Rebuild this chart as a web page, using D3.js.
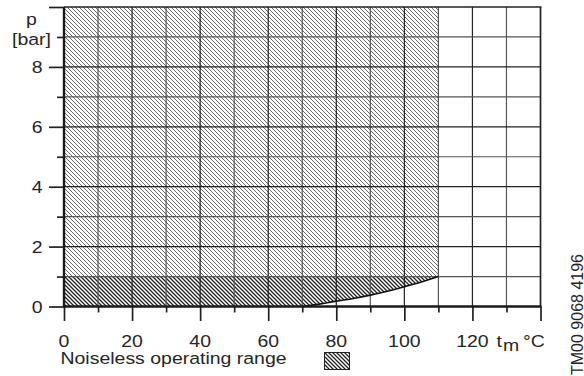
<!DOCTYPE html>
<html>
<head>
<meta charset="utf-8">
<script src="https://cdn.jsdelivr.net/npm/d3@7"></script>
<style>
  body { margin: 0; background: #fff; }
  text { font-family: "Liberation Sans", Arial, Helvetica, sans-serif; fill: #262626; }
</style>
</head>
<body>
<svg id="chart" width="584" height="376"></svg>
<script>
// Axis ranges and labelled ticks
const tempDomain = [0, 140];
const pressureDomain = [0, 10];
const xTickLabels = [0, 20, 40, 60, 80, 100, 120];
const yTickLabels = [0, 2, 4, 6, 8];

// Noiseless operating range: lower boundary (pressure needed vs temperature)
const boundaryTemp     = [0, 70, 75, 80, 85, 90, 95, 100, 105, 110];
const boundaryPressure = [0, 0, 0.08, 0.18, 0.27, 0.38, 0.51, 0.66, 0.82, 1.0];
const rangeMaxTemp = 110;
const rangeMaxPressure = 10;
const lowBandPressure = 1;

const svg = d3.select("#chart");
const W = 584, H = 376;
const x = d3.scaleLinear().domain(tempDomain).range([64, 540.5]);
const y = d3.scaleLinear().domain(pressureDomain).range([306.5, 7]);
const SX = 1.18, FS = 16.5;

svg.append("rect").attr("width", W).attr("height", H).attr("fill", "#fff");

// Hatch patterns
const defs = svg.append("defs");
function hatch(id, color, width) {
  const p = defs.append("pattern").attr("id", id)
    .attr("patternUnits", "userSpaceOnUse").attr("width", 4).attr("height", 4);
  p.append("rect").attr("width", 4).attr("height", 4).attr("fill", "#fff");
  p.append("path").attr("d", "M-1,-1 L5,5 M-1,3 L1,5 M3,-1 L5,1")
    .attr("stroke", color).attr("stroke-width", width);
}
hatch("hatchLight", "#5a5a5a", 0.9);
hatch("hatchDark", "#222", 1.3);

const boundary = boundaryTemp.map((t, i) => ({ t, p: boundaryPressure[i] }));

// Upper part of the range (1 bar to 10 bar)
svg.append("rect")
  .attr("x", x(0)).attr("y", y(rangeMaxPressure))
  .attr("width", x(rangeMaxTemp) - x(0))
  .attr("height", y(lowBandPressure) - y(rangeMaxPressure))
  .attr("fill", "url(#hatchLight)");

// Lower band, between boundary curve and 1 bar
const band = d3.area()
  .x(d => x(d.t)).y0(d => y(d.p)).y1(y(lowBandPressure))
  .curve(d3.curveMonotoneX);
svg.append("path").datum(boundary).attr("d", band).attr("fill", "url(#hatchDark)");

// Grid
const grid = svg.append("g");
d3.range(10, 140, 10).forEach(v => {
  grid.append("line").attr("x1", x(v)).attr("x2", x(v)).attr("y1", y(10)).attr("y2", y(0))
    .attr("stroke", v % 20 === 0 ? "#222" : "#555").attr("stroke-width", 1.2);
});
d3.range(1, 10, 1).forEach(v => {
  grid.append("line").attr("x1", x(0)).attr("x2", x(140)).attr("y1", y(v)).attr("y2", y(v))
    .attr("stroke", v % 2 === 0 ? "#222" : "#555").attr("stroke-width", 1.2);
});

// Boundary curve
const line = d3.line().x(d => x(d.t)).y(d => y(d.p)).curve(d3.curveMonotoneX);
svg.append("path").datum(boundary.filter(d => d.t >= 70)).attr("d", line)
  .attr("fill", "none").attr("stroke", "#111").attr("stroke-width", 1.6);

// Axes with major / minor ticks
function styleAxis(g) {
  g.select(".domain").remove();
  g.selectAll(".tick line").attr("stroke", "#222").attr("stroke-width", 1.7);
}
svg.append("g").attr("transform", `translate(${x(0)},0)`)
  .call(d3.axisLeft(y).tickValues(d3.range(0, 11, 2)).tickSize(15).tickFormat(""))
  .call(styleAxis);
svg.append("g").attr("transform", `translate(${x(0)},0)`)
  .call(d3.axisLeft(y).tickValues(d3.range(1, 10, 2)).tickSize(7).tickFormat(""))
  .call(styleAxis);
svg.append("g").attr("transform", `translate(0,${y(0)})`)
  .call(d3.axisBottom(x).tickValues(d3.range(0, 141, 20)).tickSize(14.5).tickFormat(""))
  .call(styleAxis);
svg.append("g").attr("transform", `translate(0,${y(0)})`)
  .call(d3.axisBottom(x).tickValues(d3.range(10, 140, 20)).tickSize(6).tickFormat(""))
  .call(styleAxis);

// Frame
svg.append("line").attr("x1", x(0)).attr("x2", x(0)).attr("y1", y(10)).attr("y2", y(0) + 1)
  .attr("stroke", "#1a1a1a").attr("stroke-width", 2.4);
svg.append("line").attr("x1", x(0)).attr("x2", x(140) + 1).attr("y1", y(0)).attr("y2", y(0))
  .attr("stroke", "#1a1a1a").attr("stroke-width", 2.6);
svg.append("line").attr("x1", x(0)).attr("x2", x(140) + 1).attr("y1", y(10)).attr("y2", y(10))
  .attr("stroke", "#222").attr("stroke-width", 1.7);
svg.append("line").attr("x1", x(140)).attr("x2", x(140)).attr("y1", y(10)).attr("y2", y(0))
  .attr("stroke", "#222").attr("stroke-width", 1.7);

// Text helper (slightly widened lettering)
function label(tx, ty, str, anchor, size) {
  return svg.append("text")
    .attr("transform", `translate(${tx},${ty}) scale(${SX},1)`)
    .attr("text-anchor", anchor || "start")
    .attr("font-size", size || FS)
    .text(str);
}

yTickLabels.forEach(v => label(42.5, y(v) + 6.3, String(v), "end"));
xTickLabels.forEach(v => label(x(v), 346.5, String(v), "middle"));

label(31.5, 24.5, "p", "middle");
label(31.5, 44.5, "[bar]", "middle");

label(496.5, 346.5, "t");
label(503, 350.5, "m");
label(523, 346.5, "°C");

label(60.5, 363.5, "Noiseless operating range");
svg.append("rect").attr("x", 324.5).attr("y", 352.5).attr("width", 25).attr("height", 17)
  .attr("fill", "url(#hatchDark)").attr("stroke", "#222").attr("stroke-width", 1);

svg.append("text")
  .attr("transform", "translate(582.5,375) rotate(-90)")
  .attr("font-size", 16).attr("text-anchor", "start")
  .text("TM00 9068 4196");
</script>
</body>
</html>
